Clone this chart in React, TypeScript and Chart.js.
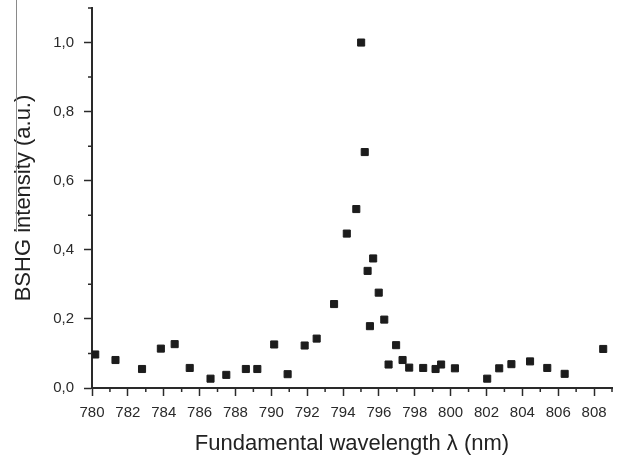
import React, { useEffect, useRef } from 'react';
import { Chart, registerables } from 'chart.js';

Chart.register(...registerables);

const wavelength = [
  780.18, 781.31, 782.79, 783.84, 784.61, 785.45, 786.61, 787.49, 788.58, 789.22,
  790.16, 790.91, 791.86, 792.53, 793.5, 794.21, 794.74, 795.01, 795.21, 795.37,
  795.5, 795.68, 795.99, 796.3, 796.54, 796.96, 797.32, 797.69, 798.47, 799.16,
  799.47, 800.24, 802.04, 802.71, 803.39, 804.43, 805.39, 806.36, 808.51,
];
const intensity = [
  0.097, 0.081, 0.055, 0.114, 0.127, 0.058, 0.027, 0.038, 0.055, 0.055,
  0.126, 0.04, 0.123, 0.143, 0.243, 0.447, 0.518, 1.0, 0.683, 0.339,
  0.179, 0.375, 0.276, 0.198, 0.068, 0.124, 0.081, 0.059, 0.058, 0.055,
  0.068, 0.057, 0.027, 0.057, 0.069, 0.077, 0.058, 0.041, 0.113,
];
const xTicks = [780, 782, 784, 786, 788, 790, 792, 794, 796, 798, 800, 802, 804, 806, 808];
const xMinorTicks = [781, 783, 785, 787, 789, 791, 793, 795, 797, 799, 801, 803, 805, 807, 809];
const yTicks = [0, 0.2, 0.4, 0.6, 0.8, 1.0];
const yMinorTicks = [0.1, 0.3, 0.5, 0.7, 0.9, 1.1];

const xTitle = 'Fundamental wavelength \u03bb (nm)';
const yTitle = 'BSHG intensity (a.u.)';

const AXIS_COLOR = '#2a2a2a';
const FONT = "'Liberation Sans', Arial, sans-serif";

const minorTicksPlugin = {
  id: 'minorTicks',
  afterDraw(chart: any) {
    const { ctx, scales, chartArea } = chart;
    const xs = scales.x;
    const ys = scales.y;
    ctx.save();
    ctx.strokeStyle = AXIS_COLOR;
    ctx.lineWidth = 1.5;
    ctx.beginPath();
    xMinorTicks.forEach((v) => {
      const px = xs.getPixelForValue(v);
      ctx.moveTo(px, chartArea.bottom);
      ctx.lineTo(px, chartArea.bottom + 4);
    });
    yMinorTicks.forEach((v) => {
      const py = ys.getPixelForValue(v);
      ctx.moveTo(chartArea.left, py);
      ctx.lineTo(chartArea.left - 4, py);
    });
    ctx.stroke();
    // scan-frame artifact line at far left
    ctx.strokeStyle = '#8a8a8a';
    ctx.lineWidth = 1;
    ctx.beginPath();
    ctx.moveTo(16.5, 0);
    ctx.lineTo(16.5, 232);
    ctx.stroke();
    ctx.restore();
  },
};

export default function App() {
  const ref = useRef<HTMLCanvasElement | null>(null);

  useEffect(() => {
    if (!ref.current) return;
    const data = wavelength.map((x, i) => ({ x, y: intensity[i] }));
    const chart = new Chart(ref.current, {
      type: 'scatter',
      data: {
        datasets: [
          {
            data,
            pointStyle: 'rect',
            pointRadius: 5,
            pointHoverRadius: 5,
            backgroundColor: '#1c1c1c',
            borderColor: '#1c1c1c',
            borderWidth: 1,
            showLine: false,
          },
        ],
      },
      options: {
        responsive: false,
        animation: false,
        devicePixelRatio: 1,
        layout: { padding: { top: 8, right: 10, left: 0, bottom: 0 } },
        plugins: {
          legend: { display: false },
          tooltip: { enabled: false },
        },
        scales: {
          x: {
            type: 'linear',
            min: 780,
            max: 809,
            afterBuildTicks: (scale: any) => {
              scale.ticks = xTicks.map((v) => ({ value: v }));
            },
            afterFit: (scale: any) => {
              scale.height = 72;
              scale.paddingLeft = 0;
              scale.paddingRight = 0;
            },
            grid: {
              display: true,
              drawOnChartArea: false,
              drawTicks: true,
              tickLength: 8,
              tickColor: AXIS_COLOR,
              tickWidth: 1.5,
            },
            border: { display: true, color: AXIS_COLOR, width: 2 },
            ticks: {
              color: '#2a2a2a',
              font: { family: FONT, size: 15 },
              padding: 8,
              maxRotation: 0,
              autoSkip: false,
              callback: (v: any) => String(v),
            },
            title: {
              display: true,
              text: xTitle,
              color: '#222',
              font: { family: FONT, size: 22 },
              padding: { top: 0, bottom: 3 },
            },
          },
          y: {
            type: 'linear',
            min: 0,
            max: 1.1,
            afterBuildTicks: (scale: any) => {
              scale.ticks = yTicks.map((v) => ({ value: v }));
            },
            afterFit: (scale: any) => {
              scale.width = 92;
              scale.paddingTop = 0;
              scale.paddingBottom = 0;
            },
            grid: {
              display: true,
              drawOnChartArea: false,
              drawTicks: true,
              tickLength: 8,
              tickColor: AXIS_COLOR,
              tickWidth: 1.5,
            },
            border: { display: true, color: AXIS_COLOR, width: 2 },
            ticks: {
              color: '#2a2a2a',
              font: { family: FONT, size: 15 },
              padding: 10,
              autoSkip: false,
              callback: (v: any) => Number(v).toFixed(1).replace('.', ','),
            },
            title: {
              display: true,
              text: yTitle,
              color: '#222',
              font: { family: FONT, size: 22 },
              padding: { top: 11, bottom: 0 },
            },
          },
        },
      },
      plugins: [minorTicksPlugin],
    });
    return () => chart.destroy();
  }, []);

  return (
    <div style={{ position: 'absolute', left: 0, top: 0, width: 622, height: 460, background: '#fff' }}>
      <canvas ref={ref} width={622} height={460} style={{ width: 622, height: 460, display: 'block' }} />
    </div>
  );
}
